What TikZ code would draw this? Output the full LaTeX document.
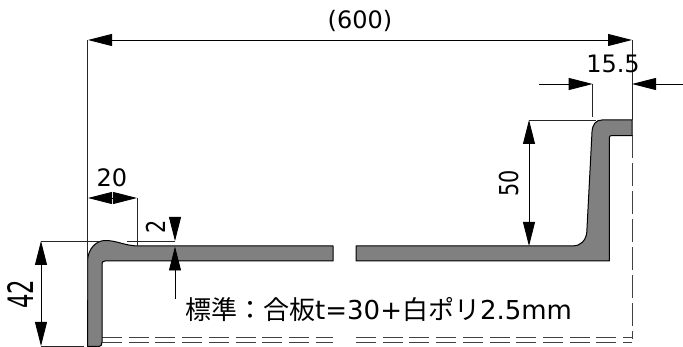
\documentclass[tikz,border=0pt]{standalone}
\usepackage{fontspec}
\setmainfont{DejaVu Sans}
\newfontfamily\cjkfont{Noto Sans CJK JP}
\usetikzlibrary{arrows.meta}
\tikzset{
  dimline/.style={draw=black,line width=0.9pt,{Triangle[length=24pt,width=12pt]}-{Triangle[length=24pt,width=12pt]}},
  onearrow/.style={draw=black,line width=0.9pt,-{Triangle[length=24pt,width=12pt]}},
  extline/.style={draw=black!85,line width=0.9pt},
  hidden/.style={draw=black!75,line width=0.9pt,dash pattern=on 20pt off 6.7pt},
  section/.style={draw=black,line width=1pt,fill=black!50,line join=round},
  dimtext/.style={inner sep=0pt,font=\fontsize{24}{24}\selectfont},
}
\begin{document}
\begin{tikzpicture}[x=1pt,y=-1pt]
\useasboundingbox (0,0) rectangle (683,347);
% hidden lines
\draw[hidden] (102,337) -- (333,337);
\draw[hidden] (102,342.5) -- (333,342.5);
\draw[hidden] (356,337) -- (632,337);
\draw[hidden] (356,342.5) -- (632,342.5);
\draw[hidden,dash pattern=on 23pt off 5pt] (632,135) -- (632,339);
% section, left part
\draw[section] (87.5,346.5) -- (87.5,262)
  .. controls (87.5,248) and (97,240.5) .. (105,240.5)
  .. controls (118,240.5) and (124,246) .. (140,246)
  -- (333,246) -- (333,261) -- (105,261)
  .. controls (103,261) and (102,262) .. (102,264)
  -- (102,342) .. controls (102,345) and (101,346.5) .. (99,346.5) -- cycle;
% section, right part
\draw[section] (356,246) -- (573,246)
  .. controls (580,246) and (586,241) .. (586.8,232)
  -- (592,132) .. controls (592.5,124) and (596,120) .. (602,120)
  -- (632,120) -- (632,135.7) -- (611,135.7)
  .. controls (610,135.7) and (609.3,136.5) .. (609.3,138)
  -- (609.3,261) -- (356,261) -- cycle;
% anchor points
\coordinate (ovL) at (88,40);
\coordinate (ovR) at (632,40);
\coordinate (twentyL) at (88,198);
\coordinate (twentyM) at (113.5,198);
\coordinate (twentyR) at (137,198);
\coordinate (twentyB) at (137,246);
\coordinate (twoE) at (127,241);
\coordinate (twoT) at (175,241);
\coordinate (twoS) at (175,217);
\coordinate (twoB) at (175,246.5);
\coordinate (twoU) at (175,299);
\coordinate (ftT) at (41,241);
\coordinate (ftB) at (41,346);
\coordinate (ftE) at (84,346);
\coordinate (ftF) at (100,241);
\coordinate (fiftyT) at (529,120);
\coordinate (fiftyB) at (529,246);
\coordinate (fiftyE) at (596,120);
\coordinate (fiveA) at (592.7,84);
\coordinate (fiveAs) at (539,84);
\coordinate (fiveAb) at (592.7,117);
\coordinate (fiveB) at (632,84);
\coordinate (fiveBs) at (683,84);
\coordinate (leftTop) at (87.5,40);
\coordinate (leftBot) at (87.5,300);
\coordinate (rightBot) at (632,120);
% extension lines
\draw[extline] (leftTop) -- (leftBot);
\draw[extline] (ovR) -- (rightBot);
\draw[extline] (twentyR) -- (twentyB);
\draw[extline] (twoE) -- (twoT);
\draw[extline] (ftT) -- (ftF);
\draw[extline] (ftB) -- (ftE);
\draw[extline] (fiftyT) -- (fiftyE);
\draw[extline] (fiveA) -- (fiveAb);
% dimensions
\draw[dimline] (ovL) -- (ovR);
\draw[onearrow] (twentyM) -- (twentyL);
\draw[onearrow] (twentyM) -- (twentyR);
\draw[onearrow] (twoS) -- (twoT);
\draw[onearrow] (twoU) -- (twoB);
\draw[dimline] (ftT) -- (ftB);
\draw[dimline] (fiftyT) -- (fiftyB);
\draw[onearrow] (fiveAs) -- (fiveA);
\draw[onearrow] (fiveBs) -- (fiveB);
% labels
\node[dimtext] (lbl600) at (360,21) {(600)};
\node[dimtext] (lbl20) at (112,178) {20};
\node[dimtext,rotate=90] (lbl2) at (155.5,227) {\scalebox{0.8}[1]{\fontsize{26}{26}\selectfont 2}};
\node[dimtext,rotate=90] (lbl42) at (20.5,294) {\scalebox{0.65}[1]{\fontsize{35}{35}\selectfont 42}};
\node[dimtext,rotate=90] (lbl50) at (509,183) {\scalebox{0.8}[1]{\fontsize{26}{26}\selectfont 50}};
\node[dimtext] (lbl155) at (613,63.5) {15.5};
\node[inner sep=0pt,anchor=west,font=\fontsize{26}{26}\selectfont] (lblnote) at (185,310) {{\cjkfont 標準：合板}t=30+{\cjkfont 白ポリ}2.5mm};
\end{tikzpicture}
\end{document}
